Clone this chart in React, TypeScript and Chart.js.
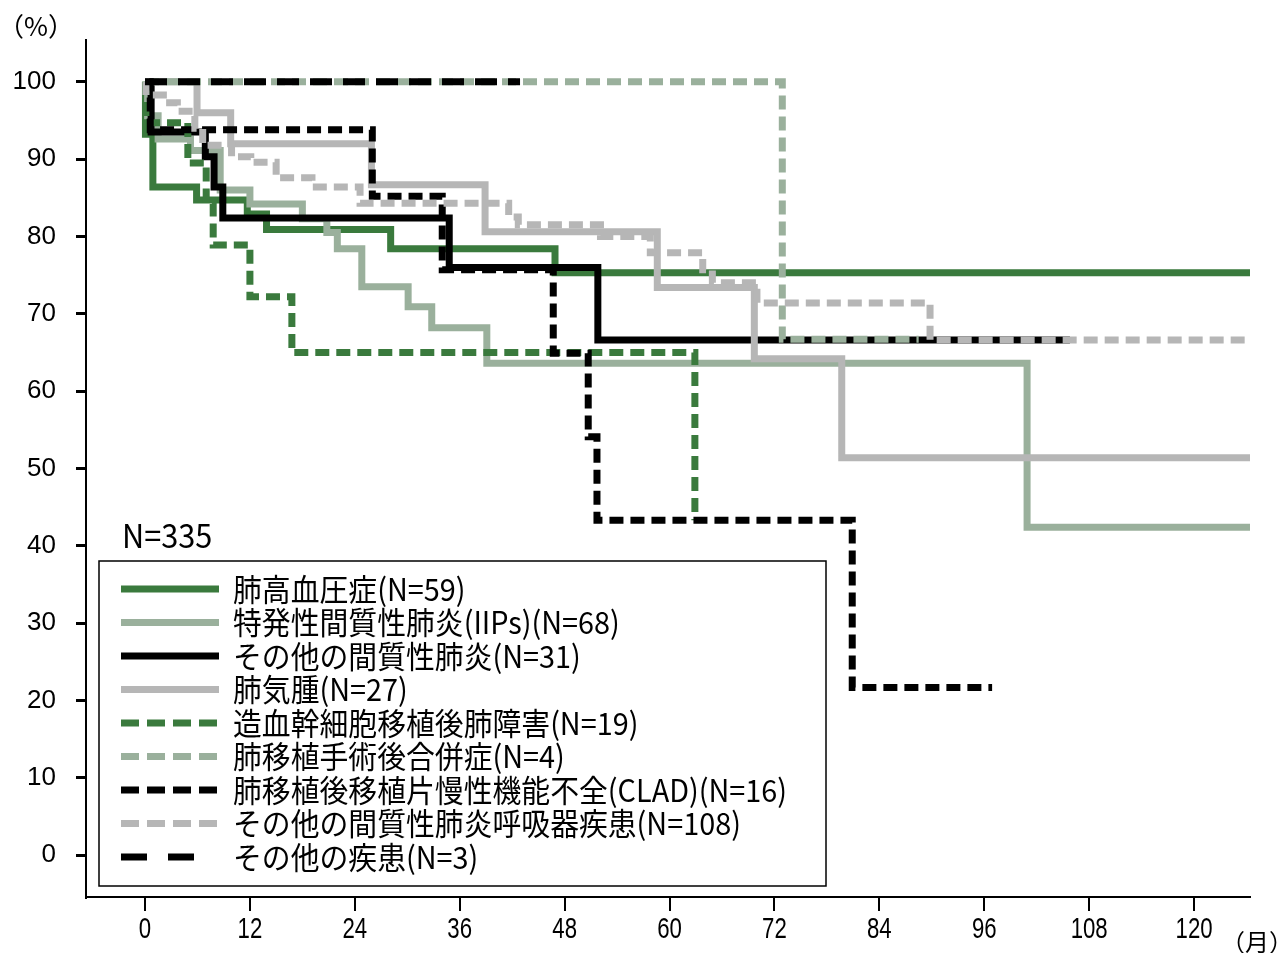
import React, { useEffect, useRef } from "react";
import { Chart, registerables } from "chart.js";

Chart.register(...registerables);

// ---------------- data ----------------
const xTickValues = [0, 12, 24, 36, 48, 60, 72, 84, 96, 108, 120];
const yTickValues = [0, 10, 20, 30, 40, 50, 60, 70, 80, 90, 100];
const X_MIN = -6.75;
const X_MAX = 126.4;
const Y_MIN = -5.4;
const Y_MAX = 105.4;

const seriesLabels = [
  "肺高血圧症(N=59)",
  "特発性間質性肺炎(IIPs)(N=68)",
  "その他の間質性肺炎(N=31)",
  "肺気腫(N=27)",
  "造血幹細胞移植後肺障害(N=19)",
  "肺移植手術後合併症(N=4)",
  "肺移植後移植片慢性機能不全(CLAD)(N=16)",
  "その他の間質性肺炎呼吸器疾患(N=108)",
  "その他の疾患(N=3)",
];
const totalLabel = "N=335";
const yUnitLabel = "（%）";
const xUnitLabel = "（月）";

const phMonths = [0, 0.05, 0.9, 5.9, 11.7, 13.9, 28.1, 46.9, 126.4];
const phSurv = [100, 93.2, 86.4, 84.7, 82.9, 80.9, 78.4, 75.3, 75.3];

const iipMonths = [0, 0.3, 1.5, 5.2, 8.6, 12.0, 18.0, 20.8, 22.0, 24.8, 30.1, 32.8, 39.1, 100.9, 126.4];
const iipSurv = [100, 95.6, 92.6, 91.1, 86.0, 84.2, 82.3, 80.5, 78.4, 73.5, 70.9, 68.2, 63.6, 42.4, 42.4];

const oipMonths = [0, 0.7, 6.9, 7.9, 8.9, 34.8, 51.8, 105.8];
const oipSurv = [100, 93.5, 90.3, 86.4, 82.4, 76.0, 66.6, 66.6];

const empMonths = [0, 5.95, 9.8, 25.9, 38.9, 58.6, 69.7, 79.7, 126.4];
const empSurv = [100, 96.0, 92.0, 86.7, 80.6, 73.4, 64.2, 51.4, 51.4];

const hsctMonths = [0, 0.1, 4.9, 7.0, 7.8, 12.0, 16.8, 62.9];
const hsctSurv = [100, 94.7, 89.5, 84.2, 78.9, 72.2, 65.0, 43.3];

const ltxMonths = [0, 72.9, 88.5];
const ltxSurv = [100, 66.7, 66.7];

const cladMonths = [0, 0.6, 26.0, 34.0, 46.7, 50.7, 51.7, 80.9, 96.9];
const cladSurv = [100, 93.8, 85.2, 75.7, 64.9, 54.1, 43.3, 21.7, 21.7];

const otherIpMonths = [0, 0.1, 2.1, 3.7, 5.7, 6.6, 9.9, 12.1, 15.0, 19.1, 24.6, 41.6, 42.7, 52.1, 57.8, 63.8, 64.9, 70.0, 89.8, 126.4];
const otherIpSurv = [100, 98.3, 97.3, 96.2, 94.0, 91.8, 90.3, 89.6, 87.6, 86.4, 84.3, 82.5, 81.5, 80.0, 77.9, 75.7, 74.0, 71.4, 66.6, 66.6];

const otherMonths = [0, 42.9];
const otherSurv = [100, 100];

// ---------------- styles ----------------
const DARK_GREEN = "#3a7a3d";
const SAGE = "#9ab09c";
const BLACK = "#000000";
const GRAY = "#b6b6b6";

const SHORT_DASH = [14, 7];
const LONG_DASH = [22, 11];
const LEGEND_SHORT_DASH = [18, 8];
const LEGEND_LONG_DASH = [26, 21];

const seriesMonths = [phMonths, iipMonths, oipMonths, empMonths, hsctMonths, ltxMonths, cladMonths, otherIpMonths, otherMonths];
const seriesSurv = [phSurv, iipSurv, oipSurv, empSurv, hsctSurv, ltxSurv, cladSurv, otherIpSurv, otherSurv];
const seriesColors = [DARK_GREEN, SAGE, BLACK, GRAY, DARK_GREEN, SAGE, BLACK, GRAY, BLACK];
const seriesDash = [[], [], [], [], SHORT_DASH, SHORT_DASH, SHORT_DASH, SHORT_DASH, LONG_DASH];
const legendDash = [[], [], [], [], LEGEND_SHORT_DASH, LEGEND_SHORT_DASH, LEGEND_SHORT_DASH, LEGEND_SHORT_DASH, LEGEND_LONG_DASH];

const CJK = "'Noto Sans CJK JP', 'Noto Sans', sans-serif";
const SANS = "'Liberation Sans', Arial, sans-serif";
const LINE_W = 7;

function drawScaledText(ctx: CanvasRenderingContext2D, text: string, x: number, y: number, size: number, family: string, sx: number, align: string = "left") {
  ctx.save();
  ctx.font = `${size}px ${family}`;
  ctx.textBaseline = "middle";
  ctx.textAlign = "left";
  ctx.fillStyle = "#000";
  const w = ctx.measureText(text).width * sx;
  let x0 = x;
  if (align === "right") x0 = x - w;
  else if (align === "center") x0 = x - w / 2;
  ctx.translate(x0, y);
  ctx.scale(sx, 1);
  ctx.fillText(text, 0, 0);
  ctx.restore();
}

const overlayPlugin = {
  id: "kmOverlay",
  afterDraw(chart: any) {
    const ctx: CanvasRenderingContext2D = chart.ctx;
    const area = chart.chartArea;
    const xScale = chart.scales.x;
    ctx.save();

    // x tick labels (condensed, positioned by the library's x scale)
    for (const v of xTickValues) {
      const px = xScale.getPixelForValue(v);
      drawScaledText(ctx, String(v), px, area.bottom + 33, 30, SANS, 0.74, "center");
    }

    // unit labels
    drawScaledText(ctx, yUnitLabel, -2, 26, 26, CJK, 1);
    drawScaledText(ctx, xUnitLabel, 1221, 942, 24, CJK, 1);

    // N=335
    drawScaledText(ctx, totalLabel, area.left + 36, 535, 33, CJK, 0.93);

    // legend box
    const bx = area.left + 13;
    const by = 561;
    const bw = 727;
    const bh = 325;
    ctx.fillStyle = "#fff";
    ctx.fillRect(bx, by, bw, bh);
    ctx.strokeStyle = "#000";
    ctx.lineWidth = 1.5;
    ctx.setLineDash([]);
    ctx.strokeRect(bx, by, bw, bh);

    const rowY0 = 589;
    const rowStep = 33.5;
    for (let i = 0; i < seriesLabels.length; i++) {
      const y = rowY0 + i * rowStep;
      ctx.save();
      ctx.strokeStyle = seriesColors[i];
      ctx.lineWidth = 7;
      const dash = legendDash[i];
      ctx.setLineDash(dash);
      ctx.lineCap = "butt";
      ctx.beginPath();
      ctx.moveTo(bx + 22, y);
      ctx.lineTo(bx + (i === 8 ? 96 : 120), y);
      ctx.stroke();
      ctx.restore();
      drawScaledText(ctx, seriesLabels[i], bx + 134, y, 31, CJK, 0.93);
    }
    ctx.restore();
  },
};

export default function App() {
  const canvasRef = useRef<HTMLCanvasElement | null>(null);

  useEffect(() => {
    const canvas = canvasRef.current;
    if (!canvas) return;
    const datasets = seriesLabels.map((label, i) => ({
      label,
      data: seriesMonths[i].map((m, j) => ({ x: m, y: seriesSurv[i][j] })),
      borderColor: seriesColors[i],
      backgroundColor: seriesColors[i],
      borderWidth: LINE_W,
      borderDash: seriesDash[i],
      borderCapStyle: "butt" as const,
      borderJoinStyle: "miter" as const,
      stepped: true,
      pointRadius: 0,
      fill: false,
      order: seriesLabels.length - i,
    }));

    const chart = new Chart(canvas, {
      type: "line",
      data: { datasets },
      options: {
        responsive: false,
        animation: false,
        layout: { padding: { left: 0, right: 32, top: 40, bottom: 0 } },
        plugins: {
          legend: { display: false },
          tooltip: { enabled: false },
        },
        scales: {
          x: {
            type: "linear",
            min: X_MIN,
            max: X_MAX,
            afterBuildTicks: (axis: any) => {
              axis.ticks = xTickValues.map((v) => ({ value: v }));
            },
            afterFit: (scale: any) => {
              scale.height = 56;
            },
            ticks: {
              display: false,
              autoSkip: false,
              maxRotation: 0,
            },
            grid: {
              drawOnChartArea: false,
              drawTicks: true,
              tickLength: 14,
              color: "#000",
              lineWidth: 2,
            },
            border: { display: true, color: "#000", width: 2 },
          },
          y: {
            type: "linear",
            min: Y_MIN,
            max: Y_MAX,
            afterBuildTicks: (axis: any) => {
              axis.ticks = yTickValues.map((v) => ({ value: v }));
            },
            afterFit: (scale: any) => {
              scale.width = 86;
            },
            ticks: {
              autoSkip: false,
              padding: 20,
              color: "#000",
              font: { family: SANS, size: 26 },
              callback: (v: any) => String(v),
            },
            grid: {
              drawOnChartArea: false,
              drawTicks: true,
              tickLength: 10,
              color: "#000",
              lineWidth: 3,
            },
            border: { display: true, color: "#000", width: 2 },
          },
        },
      },
      plugins: [overlayPlugin],
    });
    return () => chart.destroy();
  }, []);

  return (
    <div style={{ position: "fixed", left: 0, top: 0, width: 1282, height: 953, background: "#fff" }}>
      <canvas ref={canvasRef} width={1282} height={953} style={{ display: "block" }} />
    </div>
  );
}
